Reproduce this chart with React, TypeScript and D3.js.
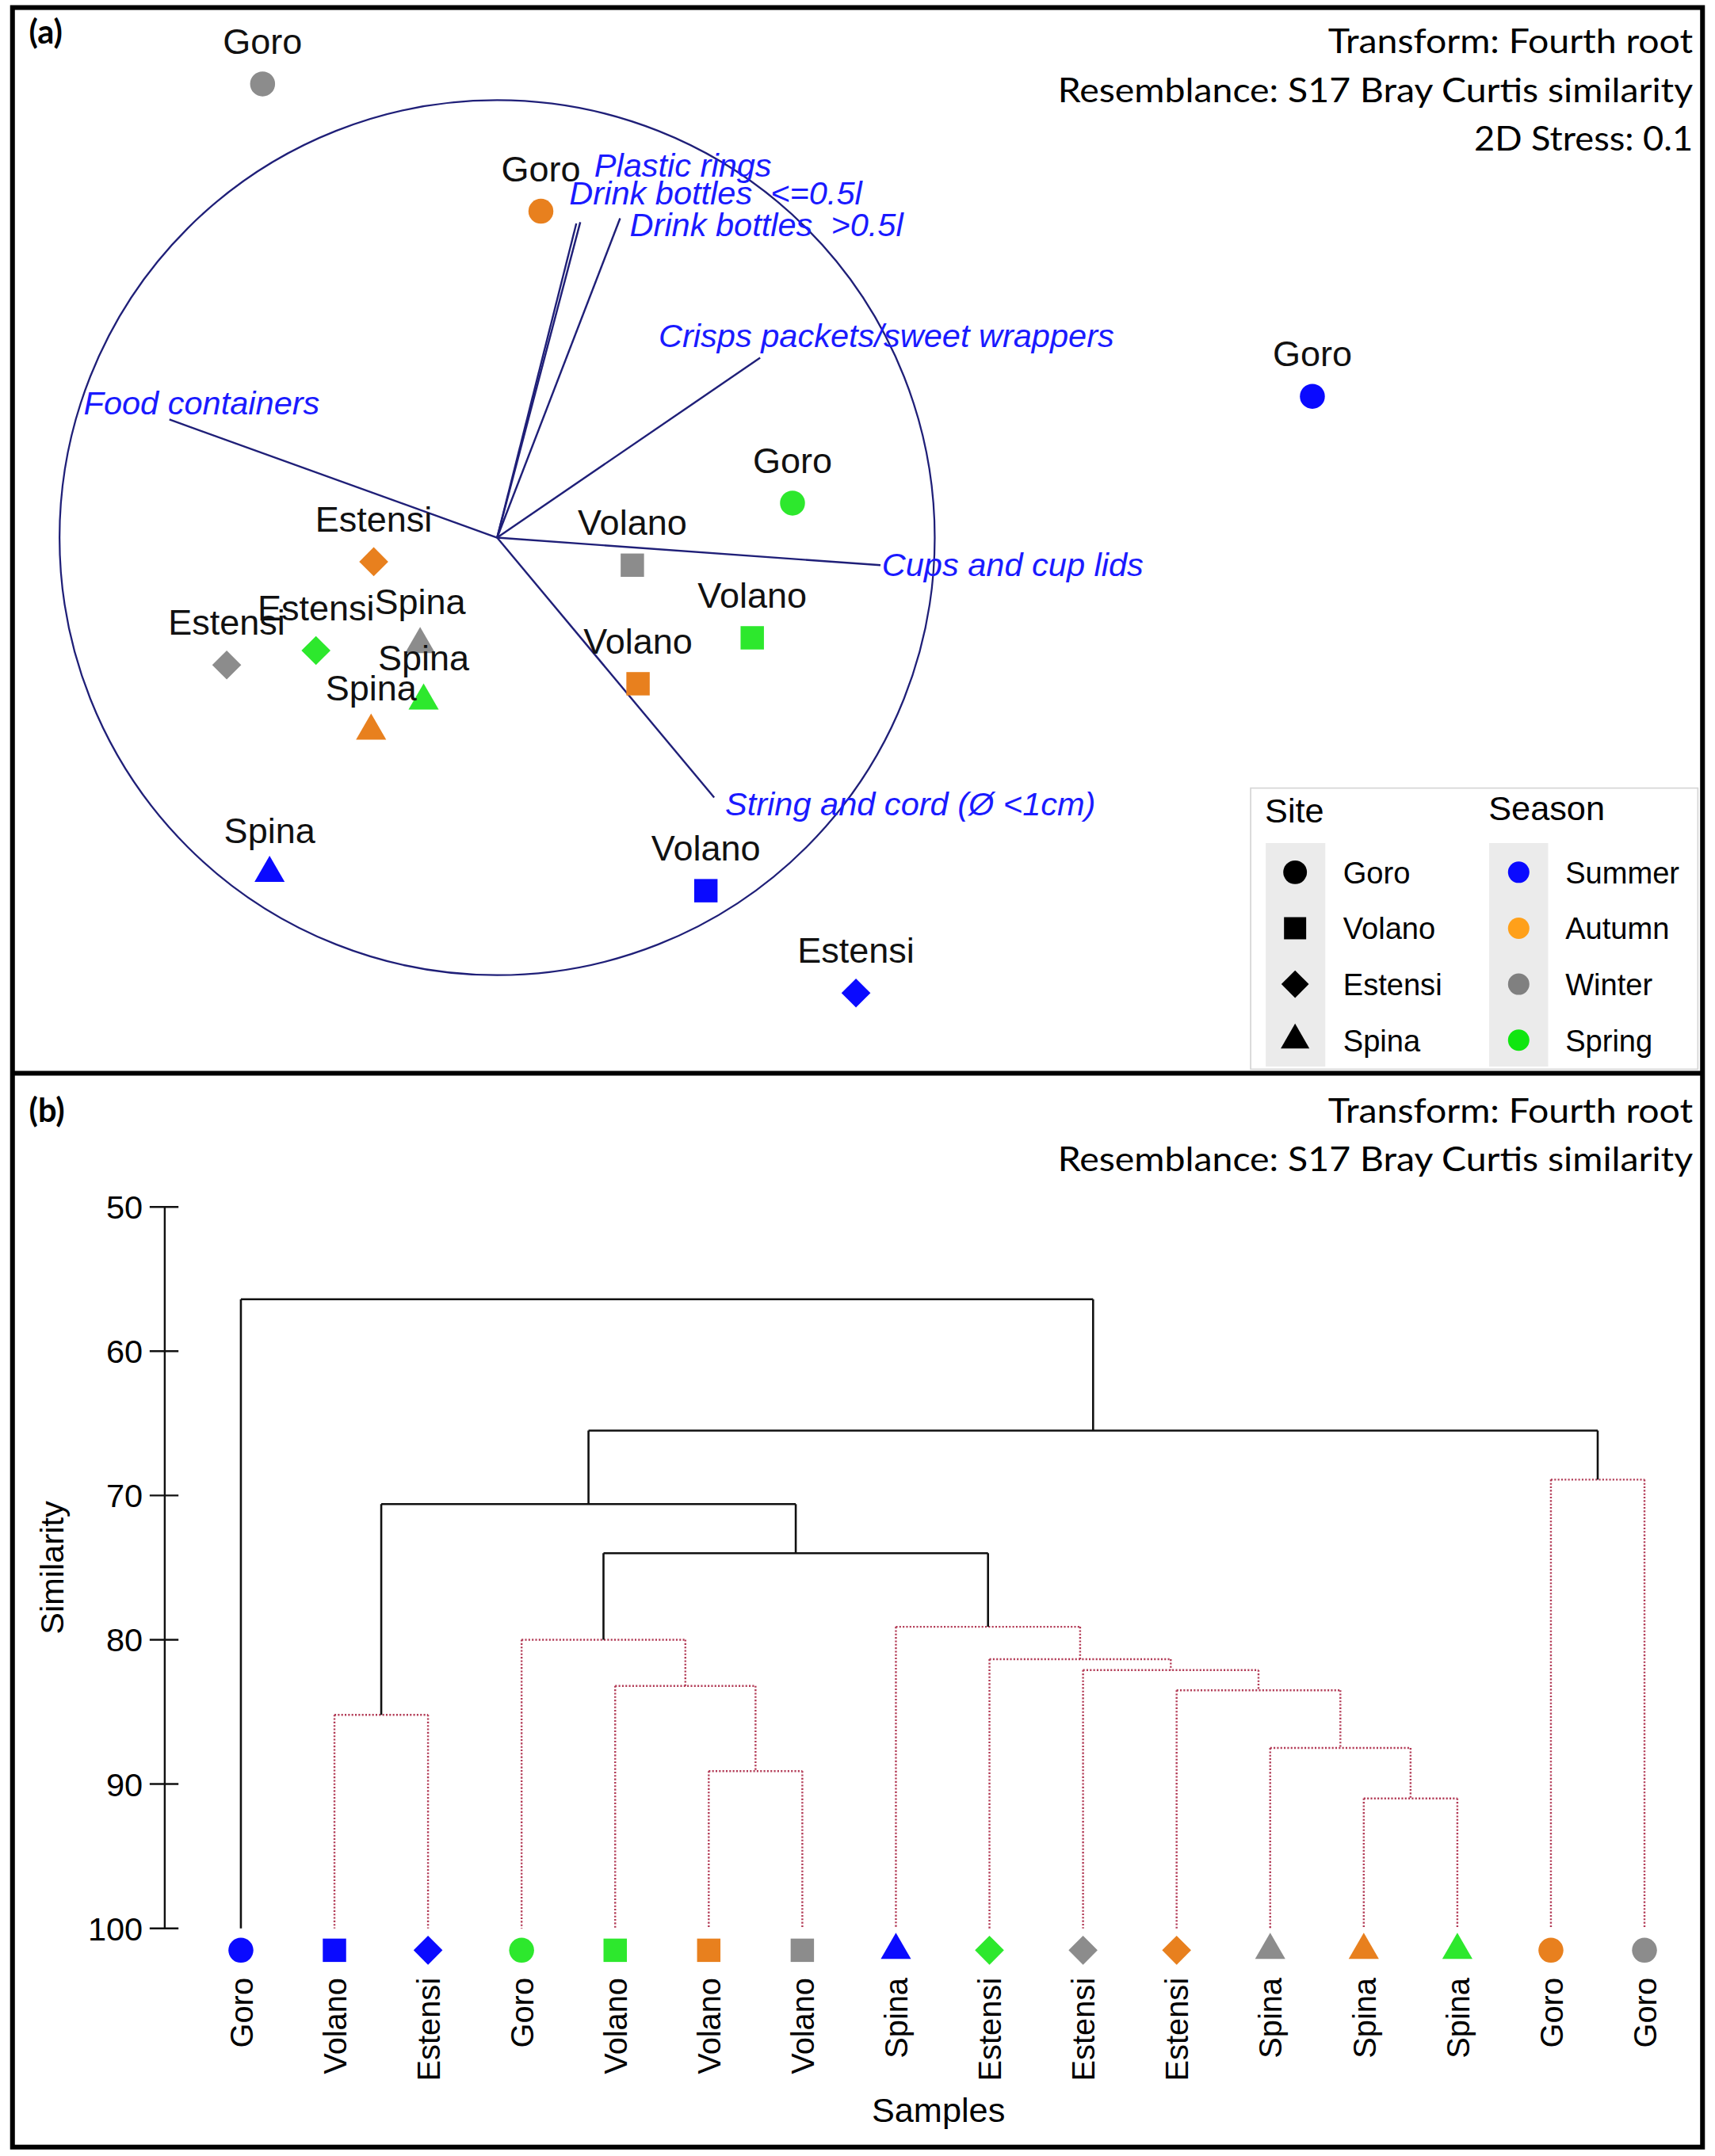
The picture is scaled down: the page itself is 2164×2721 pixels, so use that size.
import { useEffect } from "react";
import * as d3 from "d3";

// ---- data ----
const siteNames = ["Goro", "Volano", "Estensi", "Spina"];
const seasonNames = ["Summer", "Autumn", "Winter", "Spring"];
const seasonColors = ["#0a0aff", "#e8801e", "#8c8c8c", "#2de82d"];
const legendSeasonColors = ["#0a0aff", "#ffa01a", "#808080", "#10e610"];

// nMDS ordination (a)
const mdsSite = ["Goro", "Goro", "Goro", "Goro", "Volano", "Volano", "Volano", "Volano", "Estensi", "Estensi", "Estensi", "Estensi", "Spina", "Spina", "Spina", "Spina"];
const mdsSeason = ["Winter", "Autumn", "Summer", "Spring", "Winter", "Spring", "Autumn", "Summer", "Autumn", "Winter", "Spring", "Summer", "Winter", "Spring", "Autumn", "Summer"];
const mdsX = [-0.536, 0.1, 1.863, 0.675, 0.309, 0.583, 0.322, 0.477, -0.282, -0.618, -0.414, 0.82, -0.176, -0.168, -0.288, -0.52];
const mdsY = [1.037, 0.746, 0.323, 0.079, -0.063, -0.229, -0.334, -0.807, -0.055, -0.291, -0.258, -1.041, -0.244, -0.373, -0.442, -0.767];

// vector overlay (correlations)
const vectorNames = ["Food containers", "Plastic rings", "Drink bottles  <=0.5l", "Drink bottles  >0.5l", "Crisps packets/sweet wrappers", "Cups and cup lids", "String and cord (Ø <1cm)"];
const vectorX = [-0.749, 0.181, 0.19, 0.281, 0.601, 0.876, 0.496];
const vectorY = [0.27, 0.718, 0.721, 0.73, 0.411, -0.063, -0.594];

// cluster dendrogram (b)
const leafSite = ["Goro", "Volano", "Estensi", "Goro", "Volano", "Volano", "Volano", "Spina", "Estensi", "Estensi", "Estensi", "Spina", "Spina", "Spina", "Goro", "Goro"];
const leafSeason = ["Summer", "Summer", "Summer", "Spring", "Spring", "Autumn", "Winter", "Summer", "Spring", "Winter", "Autumn", "Winter", "Autumn", "Spring", "Autumn", "Winter"];
// [left, right, similarity, significant]; ids >= 16 refer to earlier merges
const merges: [number, number, number, boolean][] = [
  [14, 15, 68.9, false],
  [1, 2, 85.2, false],
  [5, 6, 89.1, false],
  [4, 18, 83.2, false],
  [3, 19, 80.0, false],
  [12, 13, 91.0, false],
  [11, 21, 87.5, false],
  [10, 22, 83.5, false],
  [9, 23, 82.1, false],
  [8, 24, 81.35, false],
  [7, 25, 79.1, false],
  [20, 26, 74.0, true],
  [17, 27, 70.6, true],
  [28, 16, 65.5, true],
  [0, 29, 56.4, true],
];
const simTicks = [50, 60, 70, 80, 90, 100];

// ---- helpers ----
const sym: Record<string, d3.SymbolType> = {
  Goro: d3.symbolCircle,
  Volano: d3.symbolSquare,
  Estensi: d3.symbolDiamond2,
  Spina: d3.symbolTriangle,
};
const symSize: Record<string, number> = { Goro: 260, Volano: 290, Estensi: 285, Spina: 210 };
const symPath = (site: string, scale = 1) =>
  d3.symbol().type(sym[site]).size(symSize[site] * scale)() || "";
const seasonColor = (s: string) => seasonColors[seasonNames.indexOf(s)];

const SANS = "'Liberation Sans', Arial, sans-serif";
const CAL = "Lato, 'Open Sans', sans-serif";
const LINE = "#1f1f78";
const VTEXT = "#1a1aff";
const DOT = "#b23a55";

// label offsets of vector names from the vector tips
const vLabelDx = [-62.5, 13, -8, 7, -74, 1, 8];
const vLabelDy = [-4, -34, -13, 13, -8, 8, 13];

export default function App() {
  useEffect(() => {
    document.body.style.margin = "0";
  }, []);

  // (a) scales
  const cx = 362.3, cy = 392, r = 319;
  const x = d3.scaleLinear().domain([-1, 1]).range([cx - r, cx + r]);
  const y = d3.scaleLinear().domain([-1, 1]).range([cy + r, cy - r]);

  // (b) scales
  const lx = d3.scalePoint<number>().domain(d3.range(16)).range([175.5, 1198.7]);
  const sy = d3.scaleLinear().domain([50, 100]).range([880, 1406]);

  const nodeX: number[] = d3.range(16).map((i) => lx(i) as number);
  const nodeH: number[] = d3.range(16).map(() => 100);
  merges.forEach(([a, b, h]) => {
    nodeX.push((nodeX[a] + nodeX[b]) / 2);
    nodeH.push(h);
  });

  const seg = (sig: boolean) =>
    sig
      ? { stroke: "#111", strokeWidth: 1.5 }
      : { stroke: DOT, strokeWidth: 1.4, strokeDasharray: "1.2 1.3" };

  return (
    <svg
      width={2164}
      height={2721}
      viewBox="0 0 1250 1572"
      style={{ display: "block", background: "#fff" }}
    >
      <rect x={0} y={0} width={1250} height={1572} fill="#fff" />

      {/* ============ panel (a) ============ */}
      <text x={21} y={32} fontFamily={CAL} fontWeight={700} fontSize={24}>(a)</text>
      {[
        ["Transform: Fourth root", 38.7, 266],
        ["Resemblance: S17 Bray Curtis similarity", 74.8, 463],
        ["2D Stress: 0.1", 109.6, 159.5],
      ].map(([t, yy, w]) => (
        <text key={t as string} x={1234 - (w as number)} y={yy as number} fontFamily={CAL} fontSize={25}
          textLength={w as number} lengthAdjust="spacingAndGlyphs">{t}</text>
      ))}

      <circle cx={x(0)} cy={y(0)} r={r} fill="none" stroke={LINE} strokeWidth={1.3} />
      {vectorNames.map((n, i) => (
        <line key={n} x1={x(0)} y1={y(0)} x2={x(vectorX[i])} y2={y(vectorY[i])} stroke={LINE} strokeWidth={1.4} />
      ))}

      {mdsSite.map((s, i) => (
        <path key={"p" + i} d={symPath(s)} transform={`translate(${x(mdsX[i])},${y(mdsY[i])})`} fill={seasonColor(mdsSeason[i])} />
      ))}
      {mdsSite.map((s, i) => (
        <text key={"l" + i} x={x(mdsX[i])} y={y(mdsY[i]) - 22} textAnchor="middle" fontFamily={SANS} fontSize={26} fill="#111">{s}</text>
      ))}
      {vectorNames.map((n, i) => (
        <text key={"v" + n} x={x(vectorX[i]) + vLabelDx[i]} y={y(vectorY[i]) + vLabelDy[i]} fontFamily={SANS}
          fontStyle="italic" fontSize={24} fill={VTEXT} style={{ whiteSpace: "pre" }}>{n}</text>
      ))}

      {/* legend */}
      <rect x={911.6} y={574.6} width={326} height={205} fill="#fff" stroke="#d6d6d6" strokeWidth={1} />
      <rect x={922.6} y={614.7} width={43.4} height={163} fill="#ebebeb" />
      <rect x={1085.5} y={614.7} width={43} height={163} fill="#ebebeb" />
      <text x={922} y={599.5} fontFamily={SANS} fontSize={25}>Site</text>
      <text x={1085} y={598} fontFamily={SANS} fontSize={25}>Season</text>
      {siteNames.map((s, i) => (
        <g key={s} transform={`translate(0,${636 + i * 40.8})`}>
          <path d={symPath(s, 0.9)} transform="translate(944,0)" fill="#000" />
          <text x={979} y={8} fontFamily={SANS} fontSize={22}>{s}</text>
        </g>
      ))}
      {seasonNames.map((s, i) => (
        <g key={s} transform={`translate(0,${636 + i * 40.8})`}>
          <circle cx={1107} cy={0} r={7.8} fill={legendSeasonColors[i]} />
          <text x={1141} y={8} fontFamily={SANS} fontSize={22}>{s}</text>
        </g>
      ))}

      {/* ============ panel (b) ============ */}
      <text x={21} y={818} fontFamily={CAL} fontWeight={700} fontSize={24}>(b)</text>
      {[
        ["Transform: Fourth root", 818.4, 266],
        ["Resemblance: S17 Bray Curtis similarity", 853.8, 463],
      ].map(([t, yy, w]) => (
        <text key={"b" + t} x={1234 - (w as number)} y={yy as number} fontFamily={CAL} fontSize={25}
          textLength={w as number} lengthAdjust="spacingAndGlyphs">{t}</text>
      ))}

      {/* y axis */}
      <line x1={120} x2={120} y1={sy(50)} y2={sy(100)} stroke="#111" strokeWidth={1.4} />
      {simTicks.map((t) => (
        <g key={t}>
          <line x1={109} x2={130} y1={sy(t)} y2={sy(t)} stroke="#111" strokeWidth={1.4} />
          <text x={104} y={sy(t)} dy="0.36em" textAnchor="end" fontFamily={SANS} fontSize={24}>{t}</text>
        </g>
      ))}
      <text transform={`translate(46,1143) rotate(-90)`} textAnchor="middle" fontFamily={SANS} fontSize={24}>Similarity</text>
      <text x={684} y={1547} textAnchor="middle" fontFamily={SANS} fontSize={25}>Samples</text>

      {/* dendrogram */}
      {merges.map(([a, b, h, sig], k) => (
        <g key={"m" + k} {...seg(sig)} fill="none">
          <line x1={nodeX[a]} x2={nodeX[b]} y1={sy(h)} y2={sy(h)} />
          <line x1={nodeX[a]} x2={nodeX[a]} y1={sy(h)} y2={sy(nodeH[a])} />
          <line x1={nodeX[b]} x2={nodeX[b]} y1={sy(h)} y2={sy(nodeH[b])} />
        </g>
      ))}

      {leafSite.map((s, i) => (
        <g key={"leaf" + i}>
          <path d={symPath(s)} transform={`translate(${lx(i)},1422)`} fill={seasonColor(leafSeason[i])} />
          <text transform={`translate(${(lx(i) as number) + 8.5},1442) rotate(-90)`} textAnchor="end" fontFamily={SANS} fontSize={23}>{s}</text>
        </g>
      ))}

      {/* frame */}
      <rect x={9} y={5.5} width={1232} height={1560} fill="none" stroke="#000" strokeWidth={3.5} />
      <line x1={9} x2={1241} y1={782.5} y2={782.5} stroke="#000" strokeWidth={3.5} />
    </svg>
  );
}
